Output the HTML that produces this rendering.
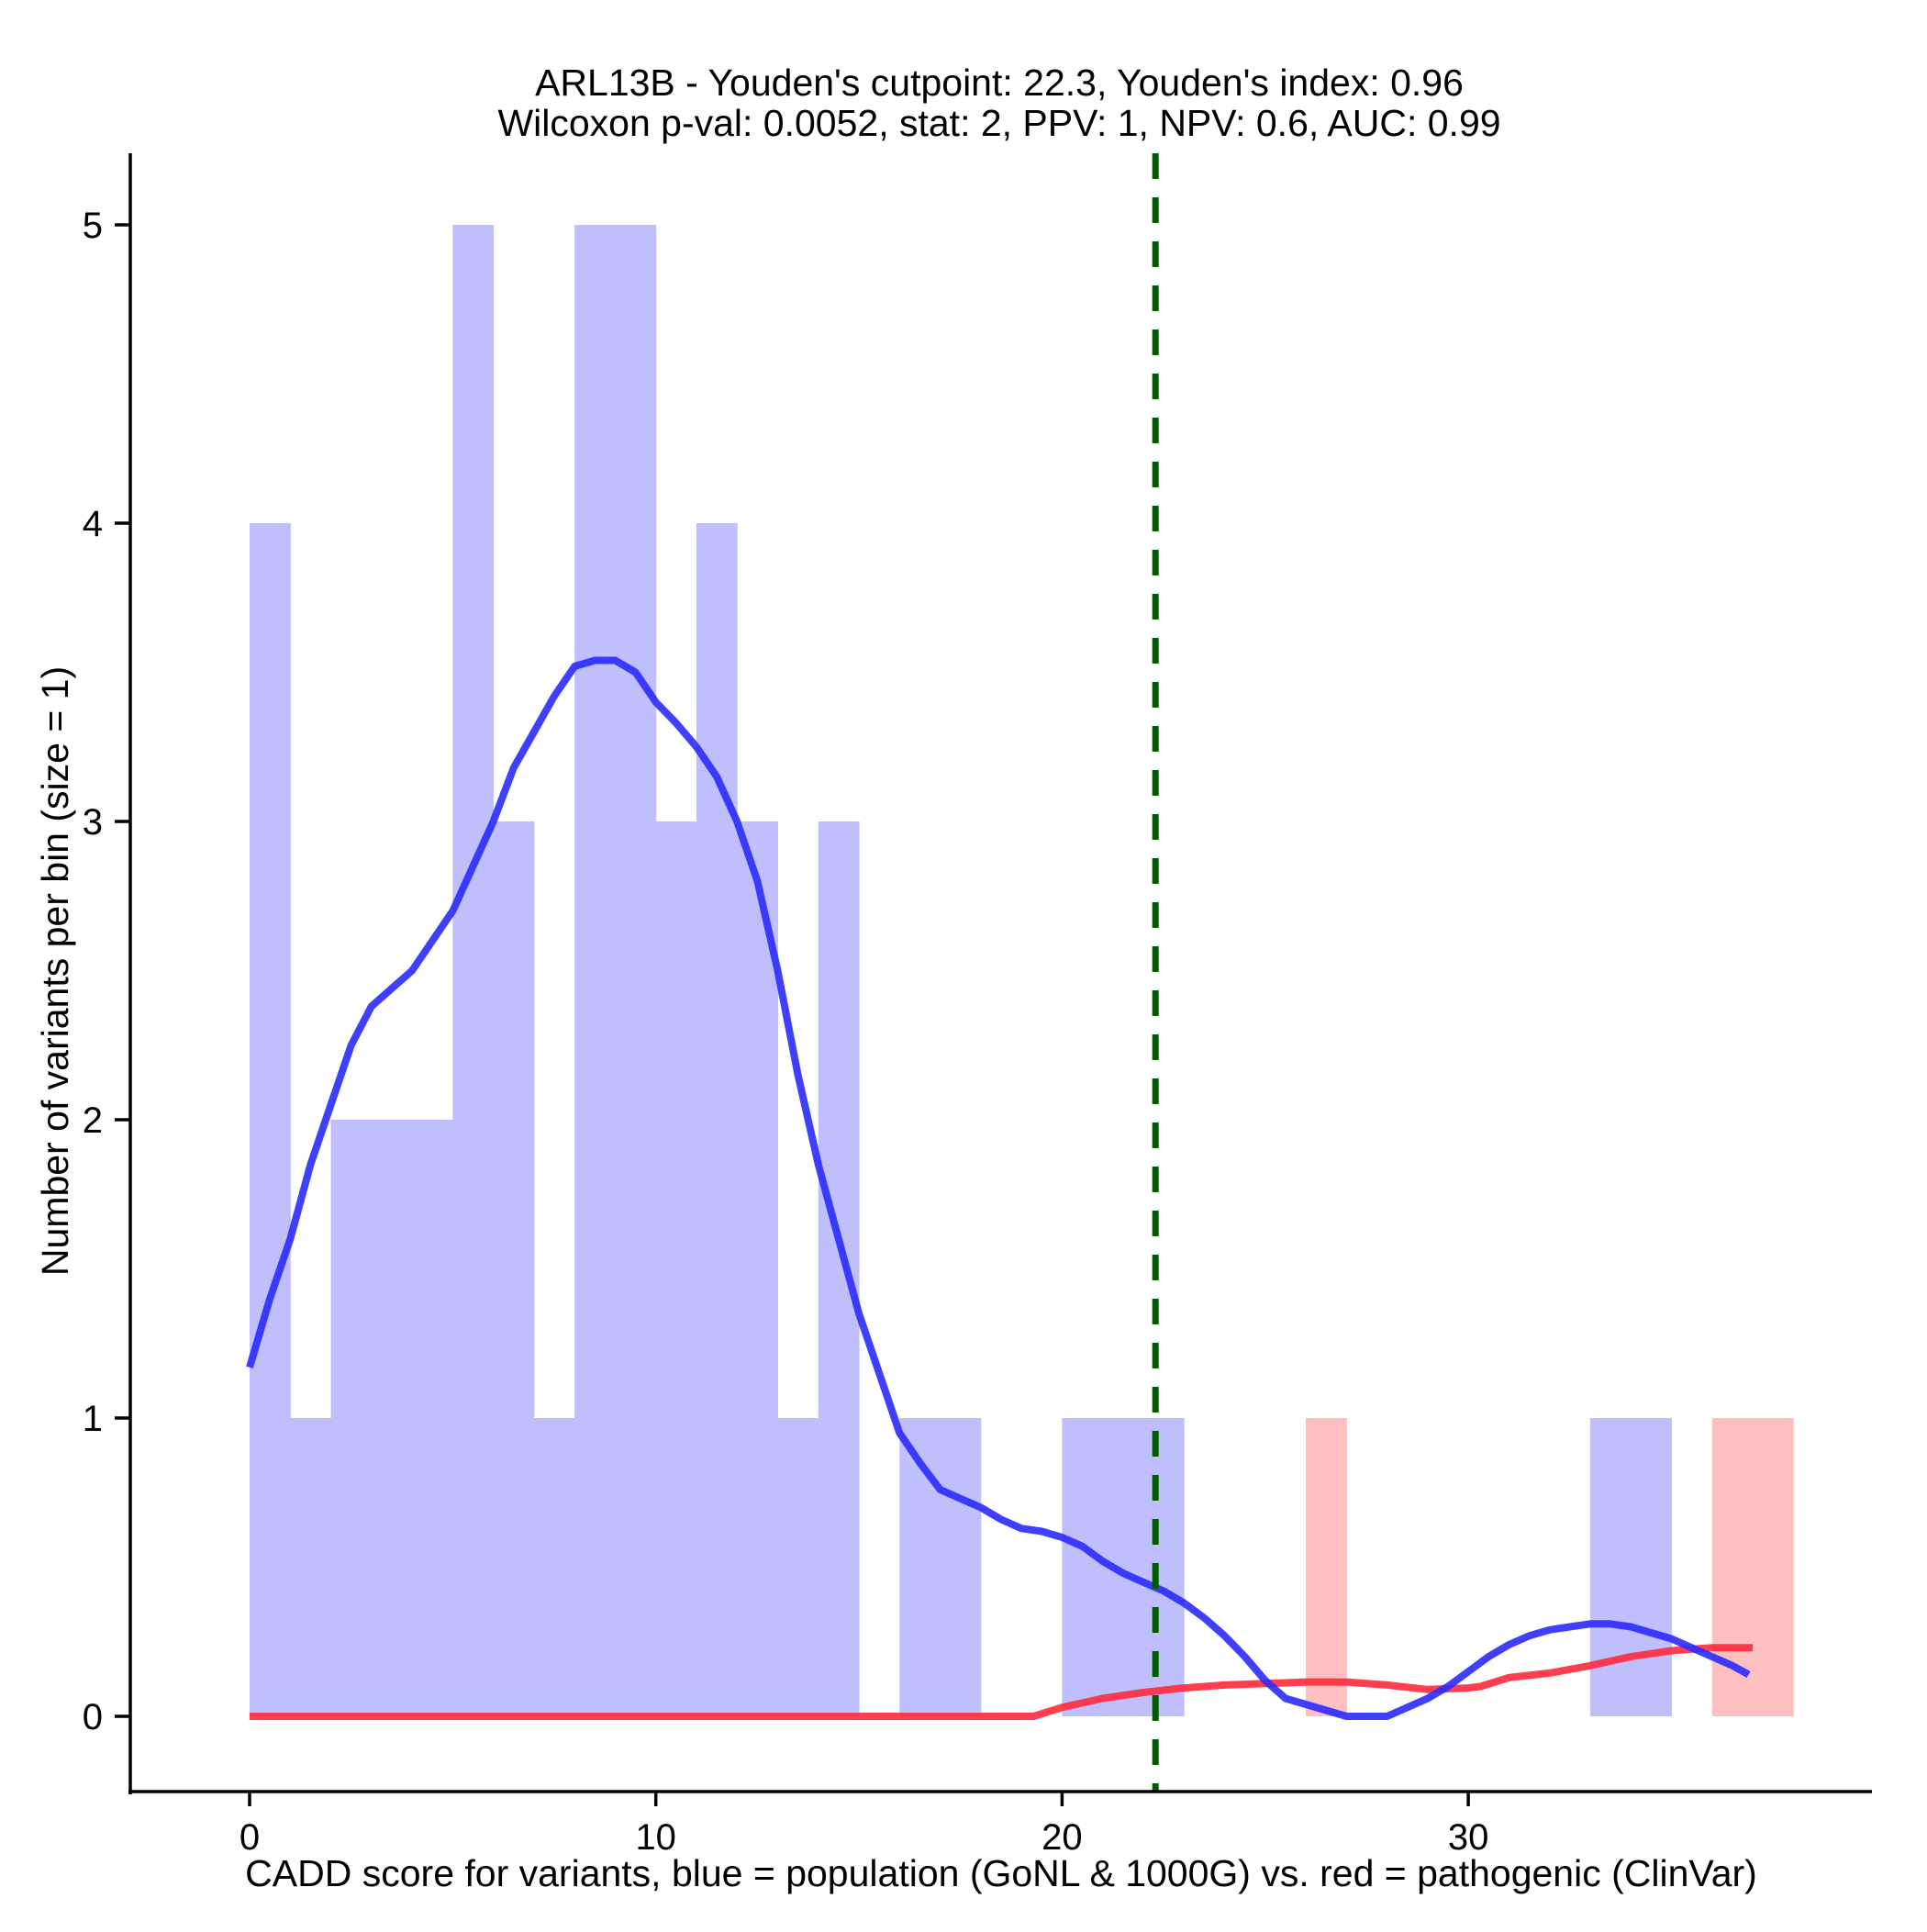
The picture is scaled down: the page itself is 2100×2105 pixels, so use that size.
<!DOCTYPE html>
<html><head><meta charset="utf-8"><style>
html,body{margin:0;padding:0;background:#fff}
svg text{font-family:"Liberation Sans",Arial,sans-serif;fill:#000}
</style></head><body>
<svg id="chart" width="2100" height="2100" viewBox="0 0 2100 2100" xmlns="http://www.w3.org/2000/svg">
<g id="bars"></g>
<g id="lines"></g>
<g id="axes"></g>
<text x="1089" y="104" font-size="41" text-anchor="middle">ARL13B - Youden's cutpoint: 22.3, Youden's index: 0.96</text>
<text x="1089" y="148" font-size="41" text-anchor="middle">Wilcoxon p-val: 0.0052, stat: 2, PPV: 1, NPV: 0.6, AUC: 0.99</text>
<text x="1091" y="2055" font-size="41" text-anchor="middle">CADD score for variants, blue = population (GoNL &amp; 1000G) vs. red = pathogenic (ClinVar)</text>
<text x="74" y="1058" font-size="41" text-anchor="middle" transform="rotate(-90 74 1058)">Number of variants per bin (size = 1)</text>
</svg>
<script>
const blueBinStarts=[0,1,2,3,4,5,6,7,8,9,10,11,12,13,14,16,17,20,21,22,33,34];
const blueCounts=[4,1,2,2,2,5,3,1,5,5,3,4,3,1,3,1,1,1,1,1,1,1];
const redBinStarts=[26,36,37];
const redCounts=[1,1,1];
const blueDensX=[0,0.5,1,1.5,2,2.5,3,3.5,4,4.5,5,5.5,6,6.5,7,7.5,8,8.5,9,9.5,10,10.5,11,11.5,12,12.5,13,13.5,14,14.5,15,15.5,16,16.5,17,17.5,18,18.5,19,19.5,20,20.5,21,21.5,22,22.5,23,23.5,24,24.5,25,25.5,26,26.5,27,28,28.5,29,29.5,30,30.5,31,31.5,32,32.5,33,33.5,34,34.5,35,35.5,36,36.5,36.9];
const blueDensY=[1.17,1.4,1.6,1.85,2.05,2.25,2.38,2.44,2.5,2.6,2.7,2.85,3.0,3.18,3.3,3.42,3.52,3.54,3.54,3.5,3.4,3.33,3.25,3.15,3.0,2.8,2.5,2.15,1.85,1.6,1.35,1.15,0.95,0.85,0.76,0.73,0.7,0.66,0.63,0.62,0.6,0.57,0.52,0.48,0.45,0.42,0.38,0.33,0.27,0.2,0.12,0.06,0.04,0.02,0,0,0.03,0.06,0.1,0.15,0.2,0.24,0.27,0.29,0.3,0.31,0.31,0.3,0.28,0.26,0.23,0.2,0.17,0.14];
const redDensX=[0,19.3,20,21,22,23,24,25,26,27,28,29,30,30.3,31,32,33,34,35,36,37];
const redDensY=[0,0,0.03,0.06,0.08,0.095,0.105,0.11,0.115,0.115,0.105,0.09,0.095,0.1,0.13,0.145,0.17,0.2,0.22,0.23,0.23];
const cutpoint=22.3;
const xTicks=[0,10,20,30];
const yTicks=[0,1,2,3,4,5];

const NS='http://www.w3.org/2000/svg';
const X=v=>272+v*44.27;
const Y=v=>1870-v*325;
function mk(tag,attrs,parent){const e=document.createElementNS(NS,tag);for(const k in attrs)e.setAttribute(k,attrs[k]);parent.appendChild(e);return e;}
const bars=document.getElementById('bars'),lines=document.getElementById('lines'),axes=document.getElementById('axes');
blueBinStarts.forEach((s,i)=>{const r=mk('rect',{x:X(s),y:Y(blueCounts[i]),width:X(s+1)-X(s)+0.5,height:Y(0)-Y(blueCounts[i]),fill:'#bfbffd'},bars);

});
redBinStarts.forEach((s,i)=>{const r=mk('rect',{x:X(s),y:Y(redCounts[i]),width:X(s+1)-X(s)+0.5,height:Y(0)-Y(redCounts[i]),fill:'#fdbfbf'},bars);

});
function path(xs,ys){return xs.map((x,i)=>(i?'L':'M')+X(x).toFixed(1)+','+Y(ys[i]).toFixed(1)).join('');}
const rl=mk('path',{d:path(redDensX,redDensY),fill:'none',stroke:'#ff2a3a','stroke-opacity':0.9,'stroke-width':8,'stroke-linejoin':'round'},lines);


const bl=mk('path',{d:path(blueDensX,blueDensY),fill:'none',stroke:'#2a2aff','stroke-opacity':0.9,'stroke-width':8,'stroke-linejoin':'round'},lines);


const cl=mk('line',{x1:X(cutpoint),x2:X(cutpoint),y1:167,y2:1952,stroke:'#005a00','stroke-width':7,'stroke-dasharray':'28,20'},lines);


const ya=mk('line',{x1:142,x2:142,y1:167,y2:1955,stroke:'#000','stroke-width':3.5},axes);


const xa=mk('line',{x1:140,x2:2040,y1:1952,y2:1952,stroke:'#000','stroke-width':3.5},axes);


xTicks.forEach(t=>{const l=mk('line',{x1:X(t),x2:X(t),y1:1952,y2:1968,stroke:'#000','stroke-width':3.5},axes);


const tx=mk('text',{x:X(t),y:2015,'font-size':40,'text-anchor':'middle'},axes);tx.textContent=t;

});
yTicks.forEach(t=>{const l=mk('line',{x1:125,x2:142,y1:Y(t),y2:Y(t),stroke:'#000','stroke-width':3.5},axes);


const tx=mk('text',{x:112,y:Y(t)+14,'font-size':40,'text-anchor':'end'},axes);tx.textContent=t;

});
</script>
</body></html>
